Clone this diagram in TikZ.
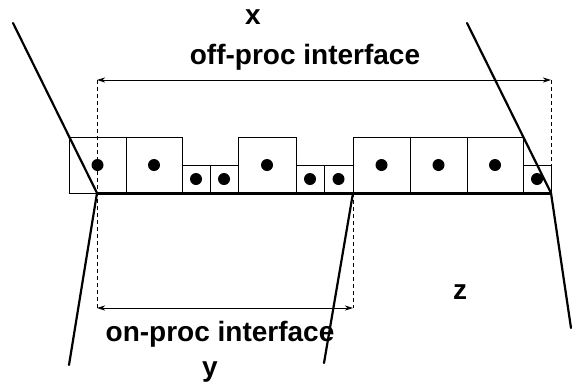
\documentclass[tikz,border=0pt]{standalone}
\usepackage{fontspec}
\setmainfont{Liberation Sans}
\usetikzlibrary{arrows.meta}

\begin{document}
\begin{tikzpicture}[
    x=1pt, y=-1pt,
    cell/.style={rectangle, draw, line width=0.8pt, anchor=south west, inner sep=0pt, outer sep=0pt},
    bigcell/.style={cell, minimum height=56pt},
    smallcell/.style={cell, minimum height=28pt},
    dot/.style={circle, fill=black, inner sep=0pt, minimum size=12pt},
    cut/.style={line width=2.2pt, line cap=round},
    guide/.style={line width=0.8pt, dash pattern=on 4pt off 3pt},
    span/.style={{Stealth[length=8pt,width=5pt,inset=2.5pt]}-{Stealth[length=8pt,width=5pt,inset=2.5pt]}, line width=0.8pt},
    lbl/.style={font=\fontsize{28}{32}\selectfont\bfseries, inner sep=0pt}
]
    \useasboundingbox (0,0) rectangle (572,389);

    % interface cells with their centre points
    \foreach \i/\x/\w/\kind in {1/69/57/bigcell, 2/126/56/bigcell, 3/182/28/smallcell, 4/210/28/smallcell,
                               5/238/58/bigcell, 6/296/28/smallcell, 7/324/29/smallcell, 8/353/57/bigcell,
                               9/410/57/bigcell, 10/467/56/bigcell, 11/523/28/smallcell} {
        \node[\kind, minimum width=\w pt] (c\i) at (\x,193) {};
        \node[dot] (d\i) at (c\i.center) {};
    }

    % partition boundaries
    \coordinate (lt) at (13,23);
    \coordinate (lb) at (97,193);
    \coordinate (ll) at (69,365);
    \coordinate (mt) at (353,193);
    \coordinate (mb) at (324,363);
    \coordinate (rt) at (467,23);
    \coordinate (rb) at (551,193);
    \coordinate (rl) at (571,328);

    \draw[line width=3pt] (lb) -- (rb);
    \draw[cut] (lt) -- (lb) -- (ll);
    \draw[cut] (mt) -- (mb);
    \draw[cut] (rt) -- (rb) -- (rl);

    % extent markers
    \coordinate (offl) at (97,80);
    \coordinate (offr) at (551,80);
    \coordinate (onl) at (97,308);
    \coordinate (onr) at (353,308);

    \draw[guide] (offl) -- (onl);
    \draw[guide] (offr) -- (c11.north east);
    \draw[guide] (mt) -- (onr);

    \draw[span] (offl) -- (offr);
    \draw[span] (onl) -- (onr);

    \node[lbl] (xlab) at (253,17) {x};
    \node[lbl] (offlab) at (305,57) {off-proc interface};
    \node[lbl] (onlab) at (220,334) {on-proc interface};
    \node[lbl] (ylab) at (210,372) {y};
    \node[lbl] (zlab) at (460,292) {z};
\end{tikzpicture}
\end{document}
